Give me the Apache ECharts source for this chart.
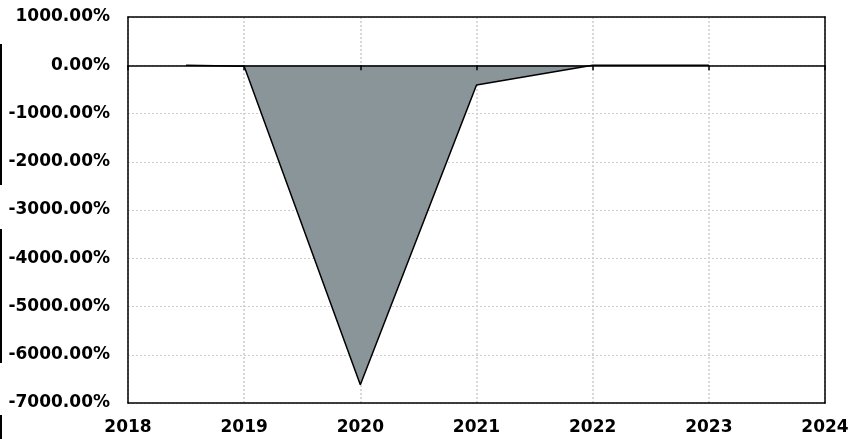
<!DOCTYPE html>
<html>
<head>
<meta charset="utf-8">
<script src="https://cdn.jsdelivr.net/npm/echarts@6/dist/echarts.min.js"></script>
<style>html,body{margin:0;padding:0;background:#fff}#c{width:863px;height:439px}</style>
</head>
<body>
<div id="c"></div>
<script>
const years = [2018.5, 2019, 2020, 2021, 2022, 2023];
const values = [0, -20, -6620, -410, 0, 0];
const yTicks = [1000, 0, -1000, -2000, -3000, -4000, -5000, -6000, -7000];
const xTicks = [2018, 2019, 2020, 2021, 2022, 2023, 2024];

const chart = echarts.init(document.getElementById('c'), null, {renderer: 'canvas'});
const font = {fontFamily: 'DejaVu Sans', fontWeight: 'bold', fontSize: 17, color: '#000'};
const xMin = xTicks[0], xMax = xTicks[xTicks.length - 1];
const yMin = yTicks[yTicks.length - 1], yMax = yTicks[0];
chart.setOption({
  animation: false,
  grid: {left: 128, right: 38, top: 17, bottom: 36},
  xAxis: [{
    type: 'value', min: xMin, max: xMax, interval: 1,
    position: 'bottom',
    axisLine: {onZero: false, lineStyle: {color: '#000', width: 1.5}},
    axisTick: {show: false},
    axisLabel: Object.assign({margin: 16, formatter: v => String(v)}, font),
    splitLine: {show: true, lineStyle: {type: [2, 2], color: '#cccccc', width: 1.5}}
  }, {
    type: 'value', min: xMin, max: xMax, interval: 1,
    position: 'top',
    z: 5,
    axisLine: {onZero: true, lineStyle: {color: '#000', width: 1.5}},
    axisTick: {show: true, inside: true, length: 5, lineStyle: {color: '#000', width: 1.5}},
    axisLabel: {show: false},
    splitLine: {show: false}
  }, {
    type: 'value', min: xMin, max: xMax, interval: 1,
    position: 'top',
    axisLine: {onZero: false, lineStyle: {color: '#000', width: 1.5}},
    axisTick: {show: false},
    axisLabel: {show: false},
    splitLine: {show: false}
  }],
  yAxis: [{
    type: 'value', min: yMin, max: yMax, interval: 1000,
    position: 'left',
    axisLine: {show: true, onZero: false, lineStyle: {color: '#000', width: 1.5}},
    axisTick: {show: false},
    axisLabel: Object.assign({margin: 18, formatter: v => v.toFixed(2) + '%'}, font),
    splitLine: {show: true, lineStyle: {type: [2, 2], color: '#cccccc', width: 1}}
  }, {
    type: 'value', min: yMin, max: yMax, interval: 1000,
    position: 'right',
    axisLine: {show: true, onZero: false, lineStyle: {color: '#000', width: 1.5}},
    axisTick: {show: false},
    axisLabel: {show: false},
    splitLine: {show: false}
  }],
  graphic: [
    {type: 'rect', left: 0, top: 44, shape: {width: 2, height: 141}, style: {fill: '#000'}},
    {type: 'rect', left: 0, top: 229, shape: {width: 2, height: 134}, style: {fill: '#000'}},
    {type: 'rect', left: 0, top: 415, shape: {width: 2, height: 24}, style: {fill: '#000'}}
  ],
  series: [{
    type: 'line',
    xAxisIndex: 0,
    yAxisIndex: 0,
    data: years.map((y, i) => [y, values[i]]),
    symbol: 'none',
    lineStyle: {color: '#000', width: 1.5},
    areaStyle: {color: '#8a959a', opacity: 1},
    z: 3
  }]
});
</script>
</body>
</html>
